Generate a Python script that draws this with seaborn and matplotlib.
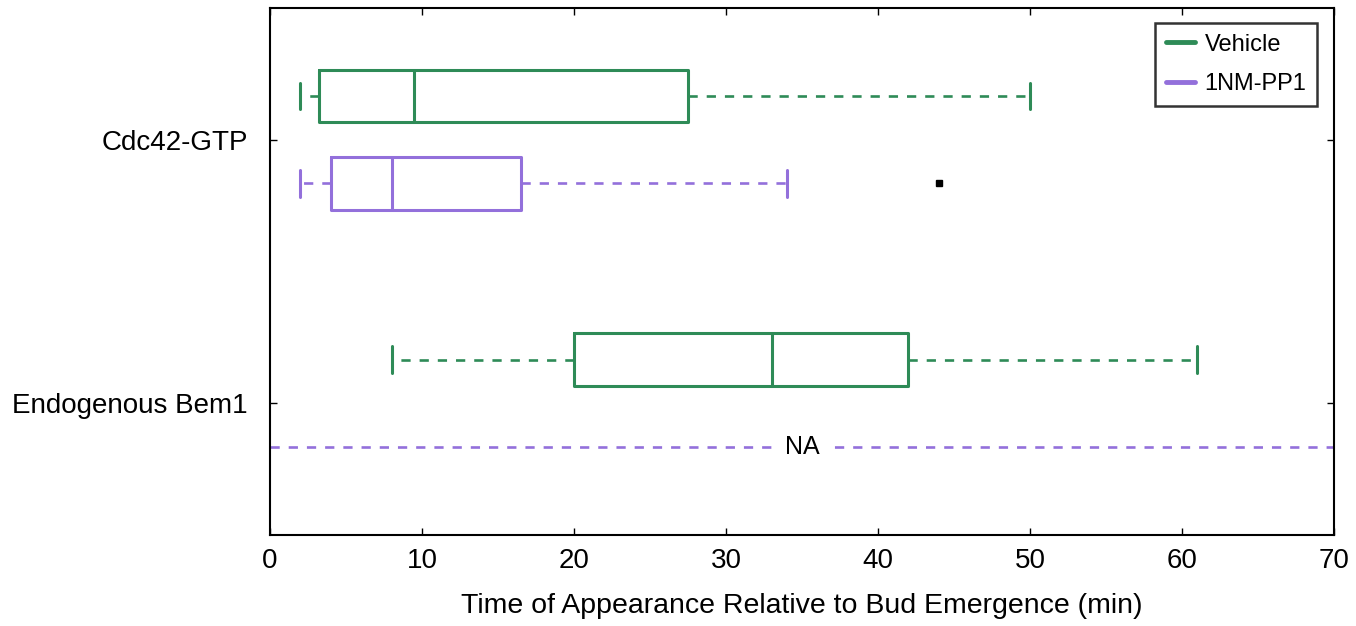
import matplotlib
matplotlib.use("Agg")
import matplotlib.pyplot as plt
from matplotlib.lines import Line2D
import seaborn as sns
import pandas as pd

# ---- data ----
markers = ["Cdc42-GTP", "Endogenous Bem1"]
treatments = ["Vehicle", "1NM-PP1"]
# five-number summaries per (marker, treatment); None = not available
veh_min = [2.0, 8.0]
veh_q1 = [3.2, 20.0]
veh_med = [9.5, 33.0]
veh_q3 = [27.5, 42.0]
veh_max = [50.0, 61.0]
veh_out = [[], []]
pp1_min = [2.0, None]
pp1_q1 = [4.0, None]
pp1_med = [8.0, None]
pp1_q3 = [16.5, None]
pp1_max = [34.0, None]
pp1_out = [[44.0], []]
xticks = [0, 10, 20, 30, 40, 50, 60, 70]

colors = {"Vehicle": "#2e8b57", "1NM-PP1": "#9370db"}

rows = []
def add(marker, treat, mn, q1, md, q3, mx, outs):
    if mn is None:
        return
    vals = [mn, q1, q1, md, md, q3, q3, mx] + list(outs)
    for v in vals:
        rows.append({"marker": marker, "treatment": treat, "time": v})

for i, m in enumerate(markers):
    add(m, "Vehicle", veh_min[i], veh_q1[i], veh_med[i], veh_q3[i], veh_max[i], veh_out[i])
    add(m, "1NM-PP1", pp1_min[i], pp1_q1[i], pp1_med[i], pp1_q3[i], pp1_max[i], pp1_out[i])
df = pd.DataFrame(rows)

sns.set_theme(style="ticks")
plt.rcParams["font.family"] = ["Liberation Sans", "DejaVu Sans"]
plt.rcParams["text.color"] = "black"
plt.rcParams["axes.labelcolor"] = "black"
plt.rcParams["xtick.color"] = "black"
plt.rcParams["ytick.color"] = "black"

fig = plt.figure(figsize=(13.56, 6.26), dpi=100)
ax = fig.add_axes([270/1356, 1-535/626, 1064/1356, 527/626])

dash = (0, (3.5, 3.4))
sns.boxplot(data=df, x="time", y="marker", hue="treatment", order=markers,
            hue_order=treatments, palette=colors, orient="h", fill=False,
            width=0.664, gap=0.4, whis=1.5, linewidth=2.2, ax=ax,
            whiskerprops={"linestyle": dash, "linewidth": 1.9},
            capprops={"linestyle": "-", "linewidth": 2.2},
            flierprops={"marker": "s", "markersize": 4,
                        "markerfacecolor": "black", "markeredgecolor": "black"},
            legend=False)

# NA row for 1NM-PP1 / Endogenous Bem1
ax.axhline(1 + 0.166, color=colors["1NM-PP1"], linestyle=dash, linewidth=1.9, zorder=1)
ax.text(35, 1 + 0.166, "NA", ha="center", va="center", fontsize=18, color="black",
        bbox=dict(facecolor="white", edgecolor="none", pad=5), zorder=3)

ax.set_xlim(0, 70)
ax.set_ylim(1.5, -0.5)
ax.set_xticks(xticks)
ax.set_xticklabels([str(t) for t in xticks])
ax.set_xlabel("Time of Appearance Relative to Bud Emergence (min)", fontsize=20.5,
              labelpad=14, color="black")
ax.set_ylabel("")
ax.tick_params(axis="both", which="major", direction="in", length=5, width=1,
               top=True, right=True, labelsize=20, color="black", labelcolor="black")
ax.tick_params(axis="x", pad=9)
ax.tick_params(axis="y", pad=16)
for s in ax.spines.values():
    s.set_visible(True)
    s.set_color("black")
    s.set_linewidth(1.5)

handles = [Line2D([0], [0], color=colors[t], lw=3.5) for t in treatments]
leg = ax.legend(handles, treatments, loc="upper right", fontsize=17,
                frameon=True, fancybox=False, handlelength=1.25, handletextpad=0.4,
                borderpad=0.45, labelspacing=0.75, borderaxespad=0,
                bbox_to_anchor=(0.984, 0.9715))
leg.get_frame().set_edgecolor("black")
leg.get_frame().set_linewidth(1.8)
for t in leg.get_texts():
    t.set_color("black")

fig.savefig("out.png", dpi=100)
